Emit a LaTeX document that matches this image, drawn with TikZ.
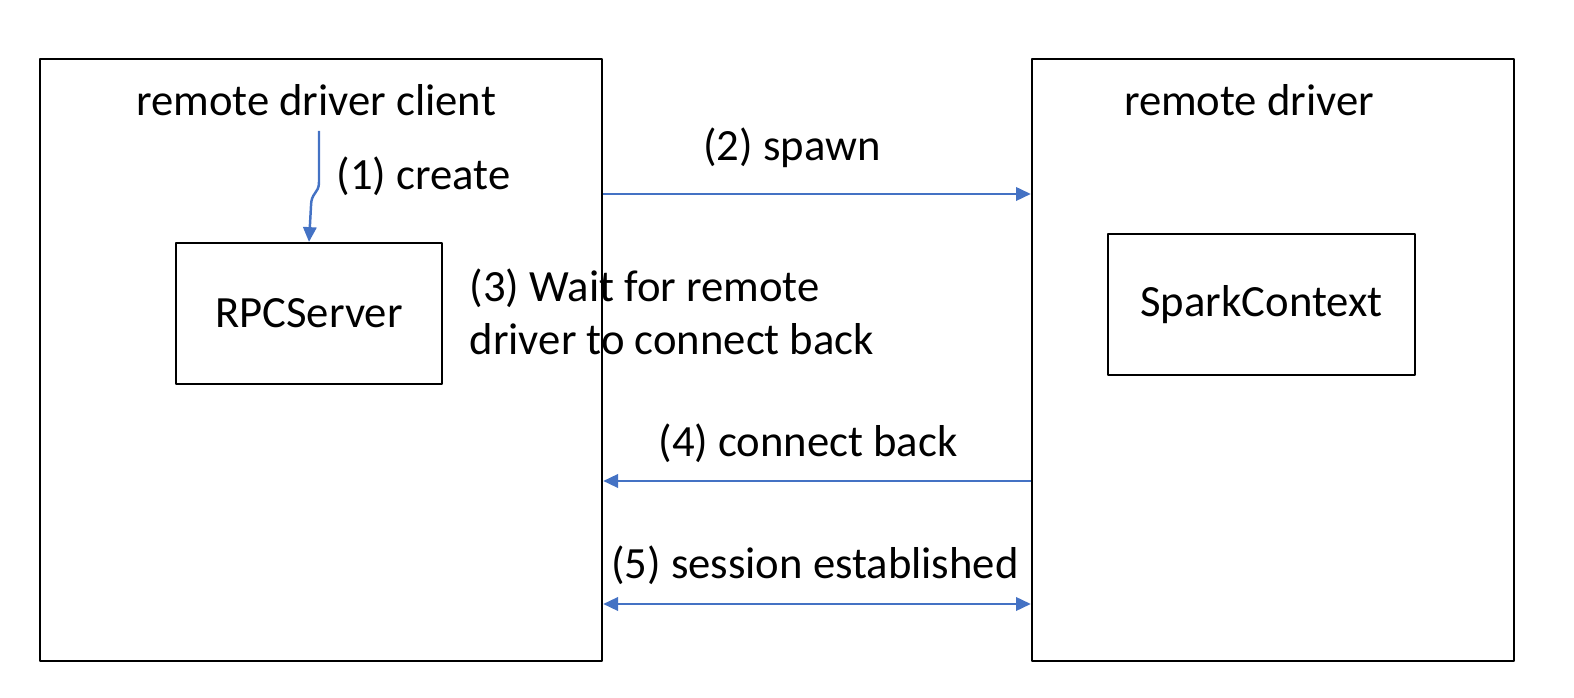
\documentclass[tikz,border=0pt]{standalone}
\usepackage{fontspec}
\setmainfont{Carlito}
\usetikzlibrary{arrows.meta}
\definecolor{arrowblue}{RGB}{68,114,196}
\tikzset{
	box/.style={draw,line width=0.6pt,inner sep=0pt},
	link/.style={arrowblue,line width=0.7pt},
	lbl/.style={inner sep=0pt}
}
\begin{document}
\begin{tikzpicture}[>={Triangle[length=4.2pt,width=3.8pt]},line join=round,x=0.01cm,y=-0.01cm,font=\fontsize{12.7}{15}\selectfont]
	\useasboundingbox (0,0) rectangle (1574,698);
	%Two main boxes
	\node[box,minimum width=5.62cm,minimum height=6.02cm] (client) at (321,360) {};
	\node[box,minimum width=4.82cm,minimum height=6.02cm] (driver) at (1273,360) {};
	\node[box,minimum width=2.66cm,minimum height=1.41cm] (rpc) at (309,313.5) {RPCServer};
	\node[box,minimum width=3.07cm,minimum height=1.41cm] (spark) at (1261.5,304.5) {SparkContext};
	\node[lbl] (clienttitle) at (316,100) {remote driver client};
	\node[lbl] (drivertitle) at (1249,100) {remote driver};
	%(1) create
	\coordinate (c1) at (319,131);
	\draw[link,->] (c1) -- (319,182) .. controls (319,194) and (311,192) .. (311,206) -- (rpc.north);
	\node[lbl,anchor=west] (create) at (336,176) {(1) create};
	%Arrows between the boxes
	\draw[link,->] (client.east |- 0,194) -- (driver.west |- 0,194);
	\draw[link,->] (driver.west |- 0,481) -- (client.east |- 0,481);
	\draw[link,<->] (client.east |- 0,604) -- (driver.west |- 0,604);
	\foreach \n/\x/\y/\t in {spawn/792/148/(2) spawn,back/808/443/(4) connect back,session/815/565/(5) session established}{
		\node[lbl] (\n) at (\x,\y) {\t};}
	\node[lbl,anchor=north west,align=left] (wait) at (469,268) {(3) Wait for remote\\driver to connect back};
\end{tikzpicture}
\end{document}
